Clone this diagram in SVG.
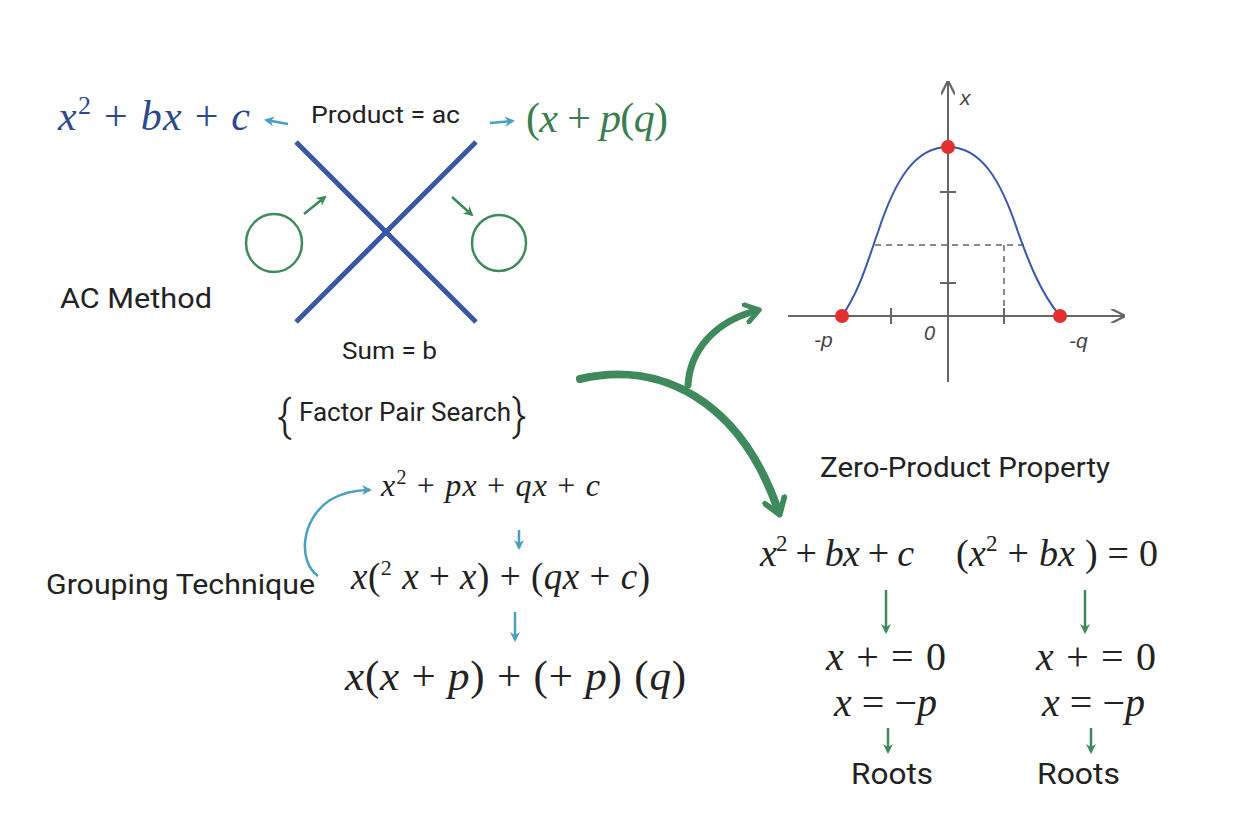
<svg xmlns="http://www.w3.org/2000/svg" width="1248" height="832" viewBox="0 0 1248 832">
<style>
.sans{font-family:Roboto,"Liberation Sans",sans-serif;fill:#222}
.math{font-family:"Liberation Serif","DejaVu Serif",serif;font-style:italic;fill:#222}
.up{font-family:"Liberation Serif",serif;font-style:normal}
.lab{font-family:"Liberation Sans",sans-serif;font-style:italic;fill:#444}
.blue{fill:#2c4a8a}
.green{fill:#3b7d52}
.axis{stroke:#666;stroke-width:2;fill:none}
.dash{stroke:#666;stroke-width:1.5;stroke-dasharray:6 5;fill:none}
.cyan{stroke:#4b9fc0;stroke-width:2.5;fill:none}
.grn{stroke:#3e8a5c;stroke-width:2.5;fill:none}
</style>
<defs>
<marker id="ac" viewBox="0 0 10 10" refX="8" refY="5" markerWidth="4" markerHeight="4" orient="auto"><path d="M0,0 L10,5 L0,10 L3,5 z" fill="#4b9fc0"/></marker>
<marker id="ag" viewBox="0 0 10 10" refX="8" refY="5" markerWidth="4" markerHeight="4" orient="auto"><path d="M0,0 L10,5 L0,10 L3,5 z" fill="#3e8a5c"/></marker>
<marker id="ax" viewBox="0 0 10 10" refX="9" refY="5" markerWidth="7" markerHeight="7" orient="auto"><path d="M0,0 L10,5 L0,10" fill="none" stroke="#666" stroke-width="1.6"/></marker>
<marker id="big" viewBox="0 0 10 10" refX="5" refY="5" markerWidth="3.2" markerHeight="3.2" orient="auto"><path d="M1,1 L7,5 L1,9" fill="none" stroke="#3e8a5c" stroke-width="2.2" stroke-linecap="round" stroke-linejoin="round"/></marker>
</defs>
<rect width="1248" height="832" fill="#fff"/>

<g id="ac-method">
<text class="math blue" x="58" y="130" font-size="42" textLength="192" lengthAdjust="spacing">x<tspan dy="-16" font-size="26" class="up">2</tspan><tspan dy="16" class="up"> + </tspan>bx<tspan class="up"> + </tspan>c</text>
<text class="sans" x="311" y="123" font-size="24" textLength="149" lengthAdjust="spacingAndGlyphs">Product = ac</text>
<text class="math green" x="526" y="132" font-size="42" textLength="142" lengthAdjust="spacing"><tspan class="up">(</tspan>x<tspan class="up"> + </tspan>p<tspan class="up">(</tspan>q<tspan class="up">)</tspan></text>
<line x1="296" y1="142" x2="476" y2="322" stroke="#3a56a8" stroke-width="5"/>
<line x1="476" y1="142" x2="296" y2="322" stroke="#3a56a8" stroke-width="5"/>
<ellipse cx="274" cy="243" rx="28" ry="29" class="grn"/>
<ellipse cx="499" cy="243" rx="27" ry="28" class="grn"/>
<text class="sans" x="60" y="308" font-size="28" textLength="152" lengthAdjust="spacingAndGlyphs">AC Method</text>
<text class="sans" x="342" y="359" font-size="24" textLength="95" lengthAdjust="spacingAndGlyphs">Sum = b</text>
</g>

<g id="factor-pair">
<text class="sans" x="277" y="431" font-size="44" font-weight="300">{</text>
<text class="sans" x="299" y="421" font-size="25" textLength="212" lengthAdjust="spacingAndGlyphs">Factor Pair Search</text>
<text class="sans" x="512" y="431" font-size="44" font-weight="300">}</text>
</g>

<g id="grouping">
<text class="sans" x="46" y="594" font-size="28" textLength="269" lengthAdjust="spacingAndGlyphs">Grouping Technique</text>
<text class="math" x="381" y="496" font-size="32" textLength="219" lengthAdjust="spacing">x<tspan dy="-12" font-size="20" class="up">2</tspan><tspan dy="12" class="up"> + </tspan>px<tspan class="up"> + </tspan>qx<tspan class="up"> + </tspan>c</text>
<text class="math" x="351" y="589" font-size="37" textLength="299" lengthAdjust="spacing">x<tspan class="up">(</tspan><tspan dy="-14" font-size="22" class="up">2</tspan><tspan dy="14"> x</tspan><tspan class="up"> + </tspan>x<tspan class="up">) + (</tspan>qx<tspan class="up"> + </tspan>c<tspan class="up">)</tspan></text>
<text class="math" x="345" y="690" font-size="43" textLength="341" lengthAdjust="spacing">x<tspan class="up">(</tspan>x<tspan class="up"> + </tspan>p<tspan class="up">) + (+ </tspan>p<tspan class="up">) (</tspan>q<tspan class="up">)</tspan></text>
</g>

<g id="graph">
<line x1="948" y1="382" x2="948" y2="82" class="axis" marker-end="url(#ax)"/>
<line x1="788" y1="316" x2="1124" y2="316" class="axis" marker-end="url(#ax)"/>
<line x1="940" y1="192" x2="956" y2="192" class="axis"/>
<line x1="940" y1="283" x2="956" y2="283" class="axis"/>
<line x1="891" y1="308" x2="891" y2="324" class="axis"/>
<line x1="1004" y1="308" x2="1004" y2="324" class="axis"/>
<line x1="875" y1="245" x2="1026" y2="245" class="dash"/>
<line x1="1004" y1="245" x2="1004" y2="316" class="dash"/>
<path d="M842,316 C860,290 868,260 878,232 C895,180 915,147 948,147 C981,147 1001,180 1018,232 C1028,260 1040,292 1060,316" fill="none" stroke="#3a56a8" stroke-width="2"/>
<circle cx="842" cy="316" r="7" fill="#e03030"/>
<circle cx="948" cy="147" r="7" fill="#e03030"/>
<circle cx="1060" cy="316" r="7" fill="#e03030"/>
<text class="lab" x="960" y="105" font-size="21">x</text>
<text class="lab" x="814" y="347" font-size="21">-p</text>
<text class="lab" x="924" y="340" font-size="20">0</text>
<text class="lab" x="1069" y="348" font-size="21">-q</text>
</g>

<g id="zero-product">
<text class="sans" x="820" y="477" font-size="28" textLength="290" lengthAdjust="spacingAndGlyphs">Zero-Product Property</text>
<text class="math" x="760" y="566" font-size="38" textLength="154" lengthAdjust="spacing">x<tspan dy="-15" font-size="23" class="up">2</tspan><tspan dy="15" class="up"> + </tspan>bx<tspan class="up"> + </tspan>c</text>
<text class="math" x="956" y="566" font-size="38" textLength="202" lengthAdjust="spacing"><tspan class="up">(</tspan>x<tspan dy="-15" font-size="23" class="up">2</tspan><tspan dy="15" class="up"> + </tspan>bx<tspan class="up"> ) = 0</tspan></text>
<text class="math" x="826" y="670" font-size="40" textLength="120" lengthAdjust="spacing">x<tspan class="up"> + = 0</tspan></text>
<text class="math" x="1036" y="670" font-size="40" textLength="120" lengthAdjust="spacing">x<tspan class="up"> + = 0</tspan></text>
<text class="math" x="834" y="716" font-size="40" textLength="103" lengthAdjust="spacing">x<tspan class="up"> = −</tspan>p</text>
<text class="math" x="1042" y="716" font-size="40" textLength="103" lengthAdjust="spacing">x<tspan class="up"> = −</tspan>p</text>
<text class="sans" x="851" y="784" font-size="30" textLength="82" lengthAdjust="spacingAndGlyphs">Roots</text>
<text class="sans" x="1037" y="784" font-size="30" textLength="83" lengthAdjust="spacingAndGlyphs">Roots</text>
</g>

<g id="connectors">
<line x1="288" y1="124" x2="266" y2="120" class="cyan" marker-end="url(#ac)"/>
<line x1="490" y1="123" x2="513" y2="121" class="cyan" marker-end="url(#ac)"/>
<line x1="304" y1="214" x2="325" y2="197" class="grn" marker-end="url(#ag)"/>
<line x1="452" y1="197" x2="472" y2="215" class="grn" marker-end="url(#ag)"/>
<line x1="519" y1="530" x2="519" y2="548" class="cyan" marker-end="url(#ac)"/>
<line x1="515" y1="612" x2="515" y2="640" class="cyan" marker-end="url(#ac)"/>
<path d="M318,576 C298,562 300,520 330,500 C345,491 360,490 370,490" class="cyan" marker-end="url(#ac)"/>
<path d="M580,379 C660,360 740,400 778,510" fill="none" stroke="#3e8a5c" stroke-width="8" stroke-linecap="round" marker-end="url(#big)"/>
<path d="M688,385 C690,350 715,322 755,311" fill="none" stroke="#3e8a5c" stroke-width="7" stroke-linecap="round" marker-end="url(#big)"/>
<line x1="886" y1="590" x2="886" y2="632" class="grn" marker-end="url(#ag)"/>
<line x1="1085" y1="590" x2="1085" y2="632" class="grn" marker-end="url(#ag)"/>
<line x1="888" y1="728" x2="888" y2="752" class="grn" marker-end="url(#ag)"/>
<line x1="1091" y1="728" x2="1091" y2="752" class="grn" marker-end="url(#ag)"/>
</g>
</svg>
